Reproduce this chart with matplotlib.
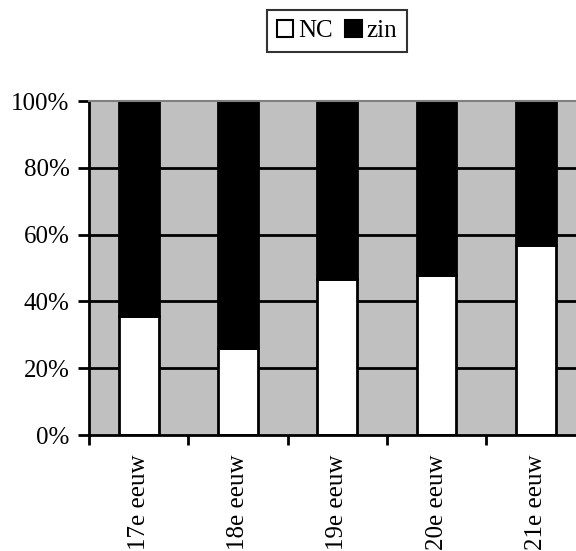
import matplotlib
matplotlib.use("Agg")
import matplotlib.pyplot as plt
from matplotlib.patches import Patch

# Aandeel per eeuw (in %)
eeuwen = ["17e eeuw", "18e eeuw", "19e eeuw", "20e eeuw", "21e eeuw"]
nc = [35.6, 26.0, 46.6, 47.9, 57.0]
zin = [64.4, 74.0, 53.4, 52.1, 43.0]
yticks = [0, 20, 40, 60, 80, 100]
ylabels = ["0%", "20%", "40%", "60%", "80%", "100%"]

plt.rcParams["font.family"] = ["Liberation Serif", "DejaVu Serif"]
plt.rcParams["font.size"] = 18

fig = plt.figure(figsize=(5.76, 5.51), dpi=100)
ax = fig.add_axes([89 / 576, 1 - 435 / 551, 496.5 / 576, 334 / 551])
ax.set_facecolor("#c0c0c0")

x = range(len(eeuwen))
ax.bar(x, nc, width=0.4, color="white", edgecolor="black", linewidth=2, zorder=3)
ax.bar(x, zin, width=0.4, bottom=nc, color="black", edgecolor="black", linewidth=2, zorder=3)

for y in yticks[1:-1]:
    ax.axhline(y, color="black", linewidth=2, zorder=1)

ax.set_xlim(-0.5, 4.5)
ax.set_ylim(0, 100)
ax.set_yticks(yticks)
ax.set_yticklabels(ylabels)
ax.set_xticks(list(x))
ax.set_xticklabels(eeuwen, rotation=90)
ax.set_xticks([i - 0.5 for i in range(len(eeuwen) + 1)], minor=True)
ax.tick_params(axis="x", which="major", length=0, pad=14)
ax.tick_params(axis="x", which="minor", length=7, width=2, direction="out")
ax.tick_params(axis="y", length=8, width=2, direction="out", pad=6)

ax.spines["left"].set_linewidth(2)
ax.spines["bottom"].set_linewidth(2)
ax.spines["top"].set_color("#808080")
ax.spines["top"].set_linewidth(1.5)
ax.spines["right"].set_visible(False)
for s in ax.spines.values():
    s.set_zorder(4)

handles = [Patch(facecolor="white", edgecolor="black", linewidth=1.5, label="NC"),
           Patch(facecolor="black", edgecolor="black", linewidth=1.5, label="zin")]
leg = fig.legend(handles=handles, loc="center", bbox_to_anchor=(337 / 576, 1 - 31 / 551),
                 ncol=2, frameon=True, fancybox=False, edgecolor="black",
                 handlelength=0.65, handleheight=0.65, handletextpad=0.2,
                 columnspacing=0.5, borderpad=0.4)
leg.get_frame().set_linewidth(1.5)

fig.savefig("out.png", dpi=100)
